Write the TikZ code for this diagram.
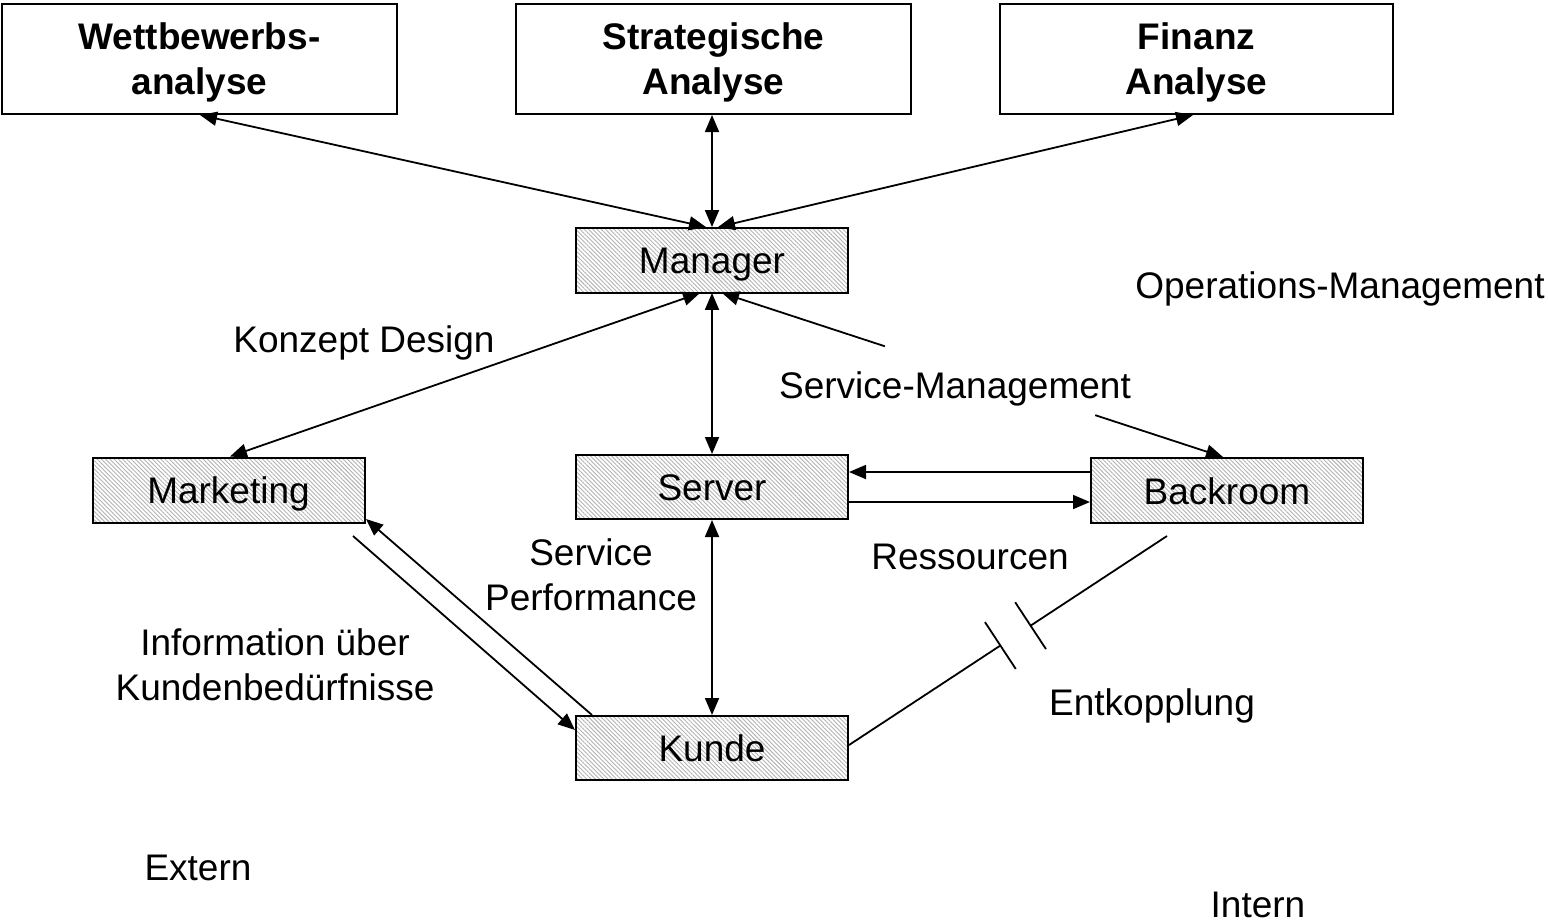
\documentclass[tikz,border=0pt]{standalone}
\usepackage{fontspec}
\setmainfont{Liberation Sans}
\usetikzlibrary{arrows.meta,patterns.meta,calc}

% two-line box caption, moved down a little inside its box
\newcommand\boxcaption[2]{\raisebox{-3.5pt}[\height][\depth]{\begin{tabular}{@{}c@{}}#1\\#2\end{tabular}}}

\begin{document}
\begin{tikzpicture}[x=1pt,y=-1pt,
  >={Triangle[length=17pt,width=14pt]},
  every node/.style={inner sep=0pt, font=\fontsize{37}{45}\selectfont},
  topbox/.style={draw, line width=2pt, fill=white,
    minimum height=110pt, font=\fontsize{37}{45}\selectfont\bfseries},
  unitbox/.style={draw, line width=2pt, minimum width=272pt, minimum height=65pt,
    text height=27pt, text depth=0pt,
    pattern={Lines[angle=-45,distance=3pt,line width=0.9pt]}, pattern color=gray!60},
  link/.style={line width=1.8pt},
  lbl/.style={anchor=base},
  lbltwo/.style={anchor=north, align=center}]

\useasboundingbox (0,0) rectangle (1548,922);

% analysis boxes along the top
\node[topbox, minimum width=395pt] (wett)  at (199.5,59) {\boxcaption{Wettbewerbs-}{analyse}};
\node[topbox, minimum width=395pt] (strat) at (713.5,59) {\boxcaption{Strategische}{Analyse}};
\node[topbox, minimum width=393pt] (fin)   at (1196.5,59) {\boxcaption{Finanz}{Analyse}};

% organisational units
\node[unitbox] (manager)   at (712,260)    {Manager};
\node[unitbox] (marketing) at (228.5,490)  {Marketing};
\node[unitbox, minimum height=64pt] (server) at (712,487) {Server};
\node[unitbox] (backroom)  at (1227,490.5) {Backroom};
\node[unitbox, minimum height=64pt] (kunde)  at (712,748) {Kunde};

% analyses <-> manager
\draw[link,<->] (wett.south -| 200,0)  -- (manager.north -| 706,0);
\draw[link,<->] (strat.south -| 712,0) -- (manager.north -| 712,0);
\draw[link,<->] (fin.south -| 1193,0)  -- (manager.north -| 718,0);

% manager <-> units
\draw[link,<->] (manager.south -| 700,0) -- (marketing.north -| 230,0);
\draw[link,<->] (manager.south -| 712,0) -- (server.north -| 712,0);
\coordinate (ms) at (manager.south -| 722,0);
\coordinate (bn) at (backroom.north -| 1223,0);
\draw[link,<-] (ms) -- ($(ms)!0.325!(bn)$);
\draw[link,->] ($(ms)!0.745!(bn)$) -- (bn);

% server <-> backroom
\draw[link,->] (backroom.west |- 0,472) -- (server.east |- 0,472);
\draw[link,->] (server.east |- 0,502) -- (backroom.west |- 0,502);

% marketing <-> kunde
\coordinate (mfree) at (353,536);
\draw[link,->] (kunde.north -| 592,0) -- (366,519) coordinate (mtip);
\draw[link,->] (mfree) -- (kunde.west |- 0,730);

% server <-> kunde
\draw[link,<->] (server.south -| 712,0) -- (kunde.north -| 712,0);

% decoupling between kunde and backroom
\coordinate (ke) at (kunde.east |- 0,745);
\coordinate (bfree) at (1167,536);
\coordinate (g1) at ($(ke)!0.476!(bfree)$);
\coordinate (g2) at ($(ke)!0.571!(bfree)$);
\draw[link] (ke) -- (g1);
\draw[link] (g2) -- (bfree);
\draw[link] ($(g1)!28pt!90:(bfree)$) -- ($(g1)!28pt!-90:(bfree)$);
\draw[link] ($(g2)!28pt!90:(bfree)$) -- ($(g2)!28pt!-90:(bfree)$);

% labels
\node[lbl] (konzept) at (364,352) {Konzept Design};
\node[lbl] (opm)     at (1340,298) {Operations-Management};
\node[lbl] (svm)     at (955,398) {Service-Management};
\node[lbltwo] (perf) at (591,538) {Service\\Performance};
\node[lbl] (ress)    at (970,569) {Ressourcen};
\node[lbltwo] (info) at (275,628) {Information über\\Kundenbedürfnisse};
\node[lbl] (entk)    at (1152,715) {Entkopplung};
\node[lbl] (extern)  at (198,880) {Extern};
\node[lbl] (intern)  at (1258,917) {Intern};
\end{tikzpicture}
\end{document}
